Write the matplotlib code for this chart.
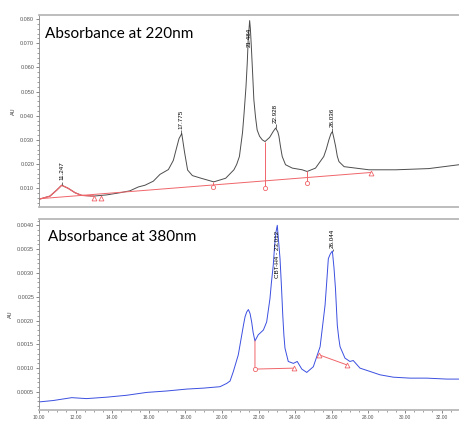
import matplotlib
matplotlib.use("Agg")
import matplotlib.pyplot as plt
from matplotlib.ticker import MultipleLocator, FormatStrFormatter
import numpy as np

# 220 nm trace (time in min, AU)
t220 = [10.0, 10.6, 10.97, 11.24, 11.6, 11.97, 12.33, 12.97, 13.7, 14.43, 14.97,
        15.43, 15.79, 16.25, 16.61, 17.07, 17.34, 17.5, 17.65, 17.80, 17.95, 18.12, 18.38,
        18.9, 19.55, 20.2, 20.65, 20.8, 20.95, 21.12, 21.2, 21.31, 21.38, 21.43, 21.51,
        21.55, 21.6, 21.67, 21.74, 21.83, 21.92, 22.05, 22.2, 22.35, 22.6, 22.8, 22.93,
        23.05, 23.11, 23.2, 23.29, 23.47, 23.84, 24.38, 24.65, 25.11, 25.56, 25.7, 25.84,
        25.95, 26.03, 26.1, 26.21, 26.3, 26.39, 26.67, 27.3, 28.03, 29.5, 31.3, 32.95]
au220 = [0.0054, 0.0067, 0.0092, 0.0112, 0.0099, 0.0081, 0.0070, 0.0067, 0.0072, 0.0081, 0.0089,
         0.0105, 0.0112, 0.0129, 0.0157, 0.0177, 0.0215, 0.0262, 0.0305, 0.0326, 0.0250, 0.0175, 0.0152,
         0.0140, 0.0126, 0.0141, 0.0176, 0.0198, 0.0231, 0.0330, 0.0405, 0.0520, 0.0620, 0.0714, 0.0794,
         0.0760, 0.0690, 0.0580, 0.0466, 0.0395, 0.0341, 0.0315, 0.0300, 0.0293, 0.0310, 0.0335, 0.0349,
         0.0333, 0.0315, 0.0270, 0.0231, 0.0197, 0.0183, 0.0176, 0.0169, 0.0183, 0.0231, 0.0262, 0.0300,
         0.0325, 0.0334, 0.0312, 0.0272, 0.0232, 0.0210, 0.0189, 0.0183, 0.0176, 0.0176, 0.0181, 0.0197]
red_end_220 = 12.97

peak_t220 = [11.247, 17.775, 21.484, 22.928, 26.036]
peak_v220 = [0.0112, 0.0326, 0.0794, 0.0349, 0.0334]

base_t220 = [10.0, 28.16]
base_v220 = [0.0056, 0.0165]
tri_t220 = [13.0, 13.37, 28.16]
tri_v220 = [0.0058, 0.0058, 0.0164]
drop_t220 = [19.5, 22.35, 24.63]
drop_top220 = [0.0126, 0.0293, 0.0169]
drop_bot220 = [0.0104, 0.0102, 0.0121]

# 380 nm trace
t380 = [10.0, 10.78, 11.79, 12.6, 13.7, 14.79, 15.88, 16.98, 18.07, 18.98, 19.89,
        20.26, 20.44, 20.62, 20.89, 21.08, 21.18, 21.26, 21.35, 21.44, 21.53, 21.62, 21.7,
        21.8, 21.98, 22.26, 22.44, 22.62, 22.7, 22.8, 22.88, 22.95, 23.02, 23.08, 23.17,
        23.25, 23.32, 23.38, 23.44, 23.62, 23.9, 24.11, 24.36, 24.63, 24.99, 25.36, 25.5,
        25.63, 25.72, 25.81, 25.92, 26.03, 26.12, 26.2, 26.3, 26.38, 26.45, 26.72,
        26.99, 27.17, 27.54, 28.09, 28.63, 29.36, 30.27, 31.19, 32.28, 32.95]
au380 = [0.00029, 0.00032, 0.00038, 0.00036, 0.00039, 0.00043, 0.00049, 0.00052, 0.00056, 0.00058, 0.00061,
         0.00068, 0.00073, 0.00093, 0.00128, 0.00170, 0.00192, 0.00208, 0.00218, 0.00223, 0.00215, 0.00197, 0.00175,
         0.00157, 0.00170, 0.00180, 0.00197, 0.00246, 0.00280, 0.00316, 0.00360, 0.00386, 0.00400, 0.00372, 0.00330,
         0.00270, 0.00211, 0.00170, 0.00142, 0.00114, 0.00110, 0.00114, 0.00098, 0.00091, 0.00103, 0.00145, 0.00190,
         0.00232, 0.00280, 0.00330, 0.00340, 0.00346, 0.00310, 0.00267, 0.00190, 0.00163, 0.00145, 0.00121,
         0.00114, 0.00116, 0.00100, 0.00093, 0.00086, 0.00081, 0.00079, 0.00079, 0.00077, 0.00077]

label_t380 = [23.012, 26.044]
label_v380 = [0.00400, 0.00346]
labels380 = ["CBT-H4 - 23.012", "26.044"]

seg1_t = [21.8, 21.8, 23.93]
seg1_v = [0.00157, 0.00098, 0.00100]
seg2_t = [25.3, 26.81]
seg2_v = [0.00128, 0.00107]

plt.rcParams['font.family'] = ['Liberation Sans', 'DejaVu Sans']
fig = plt.figure(figsize=(4.59, 4.23), dpi=100)
ax1 = fig.add_axes([0.085, 0.511, 0.915, 0.454])
ax2 = fig.add_axes([0.085, 0.031, 0.915, 0.451])

red = '#f0656a'
frame = '#b8b8b8'
tickc = '#555555'

for ax in (ax1, ax2):
    for s in ['top', 'bottom']:
        ax.spines[s].set_color(frame)
        ax.spines[s].set_linewidth(1.3)
    ax.spines['right'].set_visible(False)
    ax.spines['left'].set_color('#888888')
    ax.spines['left'].set_linewidth(0.6)
    ax.tick_params(axis='y', which='major', labelsize=4, length=2.5, width=0.5,
                   colors=tickc, pad=1)
    ax.tick_params(axis='y', which='minor', length=1.2, width=0.4, color=tickc)
    ax.set_xlim(10.0, 32.95)
    ax.set_ylabel('AU', fontsize=4, color='#333333', labelpad=3)

# top panel
ax1.plot(t220, au220, color='#4d4d4d', lw=0.7)
t220a = np.array(t220)
m = t220a <= red_end_220
ax1.plot(t220a[m], np.array(au220)[m], color=red, lw=0.9)
ax1.plot(base_t220, base_v220, color=red, lw=0.7)
ax1.vlines(drop_t220, drop_bot220, drop_top220, color=red, lw=0.7)
ax1.plot(drop_t220, drop_bot220, 'o', mfc='white', mec=red, ms=3, mew=0.6)
ax1.plot(tri_t220, tri_v220, '^', mfc='white', mec=red, ms=3.5, mew=0.6)
ax1.set_ylim(0.00225, 0.0818)
ax1.yaxis.set_major_locator(MultipleLocator(0.010))
ax1.yaxis.set_minor_locator(MultipleLocator(0.002))
ax1.yaxis.set_major_formatter(FormatStrFormatter('%.3f'))
ax1.set_xticks([])
ax1.text(0.014, 0.90, 'Absorbance at 220nm', transform=ax1.transAxes,
         fontsize=11, family=['Lato', 'DejaVu Sans'], va='center', ha='left')
for t, v in zip(peak_t220, peak_v220):
    if v > 0.07:
        ax1.text(t, v - 0.003, '%.3f' % t, rotation=90, fontsize=4.5, ha='center', va='top')
    else:
        ax1.vlines(t, v, v + 0.0015, color='#333333', lw=0.5)
        ax1.text(t, v + 0.0020, '%.3f' % t, rotation=90, fontsize=4.5, ha='center', va='bottom')

# bottom panel
ax2.plot(t380, au380, color='#3b4fe0', lw=0.7)
ax2.plot(seg1_t, seg1_v, color=red, lw=0.7)
ax2.plot(seg2_t, seg2_v, color=red, lw=0.7)
ax2.plot(seg1_t[1], seg1_v[1], 'o', mfc='white', mec=red, ms=3, mew=0.6)
ax2.plot([seg1_t[2]] + seg2_t, [seg1_v[2]] + seg2_v, '^', mfc='white', mec=red, ms=3.5, mew=0.6)
ax2.set_ylim(0.000123, 0.00413)
ax2.yaxis.set_major_locator(MultipleLocator(0.0005))
ax2.yaxis.set_minor_locator(MultipleLocator(0.0001))
ax2.yaxis.set_major_formatter(FormatStrFormatter('%.4f'))
ax2.xaxis.set_major_locator(MultipleLocator(2))
ax2.xaxis.set_minor_locator(MultipleLocator(0.5))
ax2.xaxis.set_major_formatter(FormatStrFormatter('%.2f'))
ax2.tick_params(axis='x', which='major', labelsize=3.5, length=2.5, width=0.5,
                colors=tickc, pad=1.5)
ax2.tick_params(axis='x', which='minor', length=1.2, width=0.4, color=tickc)
ax2.text(0.021, 0.906, 'Absorbance at 380nm', transform=ax2.transAxes,
         fontsize=11, family=['Lato', 'DejaVu Sans'], va='center', ha='left')
ax2.text(label_t380[0], label_v380[0] - 0.00012, labels380[0], rotation=90,
         fontsize=4.5, ha='center', va='top')
ax2.vlines(label_t380[1], label_v380[1], label_v380[1] + 0.00005, color='#333333', lw=0.5)
ax2.text(label_t380[1], label_v380[1] + 0.00006, labels380[1], rotation=90,
         fontsize=4.5, ha='center', va='bottom')

fig.savefig('out.png', dpi=100)
